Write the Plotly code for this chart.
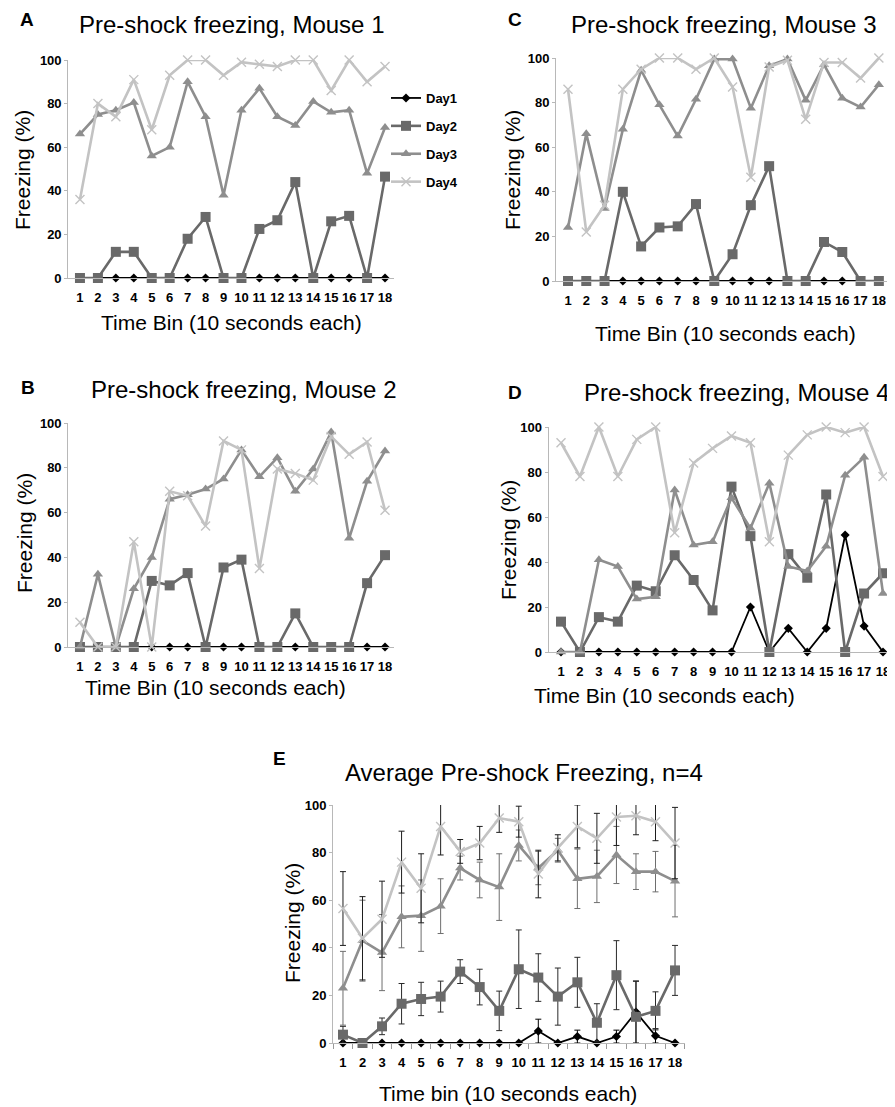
import plotly.graph_objects as go

# ---------------- data ----------------
bins = [1, 2, 3, 4, 5, 6, 7, 8, 9, 10, 11, 12, 13, 14, 15, 16, 17, 18]
tick_labels = ["1", "2", "3", "4", "5", "6", "7", "8", "9", "10", "11", "12", "13", "14", "15", "16", "17", "18"]
day_names = ["Day1", "Day2", "Day3", "Day4"]

# Mouse 1 (panel A)
m1_day1 = [0, 0, 0, 0, 0, 0, 0, 0, 0, 0, 0, 0, 0, 0, 0, 0, 0, 0]
m1_day2 = [0, 0, 12, 12, 0, 0, 18, 28, 0, 0, 22.5, 26.5, 44, 0, 26, 28.5, 0, 46.5]
m1_day3 = [66, 75, 77, 80.5, 56, 60, 90, 74, 38, 77, 87, 74, 70, 81, 76, 77, 48, 69]
m1_day4 = [36, 80, 74, 91, 68, 93, 100, 100, 93, 99, 98, 97, 100, 100, 86, 100, 90, 97]

# Mouse 2 (panel B)
m2_day1 = [0, 0, 0, 0, 0, 0, 0, 0, 0, 0, 0, 0, 0, 0, 0, 0, 0, 0]
m2_day2 = [0, 0, 0, 0, 29.5, 27.5, 33, 0, 35.5, 39, 0, 0, 15, 0, 0, 0, 28.5, 41]
m2_day3 = [0, 32.5, 0, 26, 40, 66, 68, 70.5, 75, 88, 76, 84.5, 69.5, 79.5, 96, 48.5, 74, 87.5]
m2_day4 = [11, 0, 0, 47, 0, 69.5, 67.5, 54, 92, 88, 35, 79.5, 77.5, 74.5, 94, 86, 91.5, 61]

# Mouse 3 (panel C)
m3_day1 = [0, 0, 0, 0, 0, 0, 0, 0, 0, 0, 0, 0, 0, 0, 0, 0, 0, 0]
m3_day2 = [0, 0, 0, 40, 15.5, 24, 24.5, 34.5, 0, 12, 34, 51.5, 0, 0, 17.5, 13, 0, 0]
m3_day3 = [24, 66, 32.5, 68, 94.5, 79, 65, 81.5, 99.5, 99.5, 77.5, 96.5, 99.5, 81, 97, 82, 78, 88]
m3_day4 = [86, 22, 34, 86, 95, 100, 100, 95, 100, 87, 46.5, 96, 99, 72.5, 98, 98, 91, 100]

# Mouse 4 (panel D)
m4_day1 = [0, 0, 0, 0, 0, 0, 0, 0, 0, 0, 20, 0, 10.5, 0, 10.5, 52, 11.5, 0]
m4_day2 = [13.5, 0, 15.5, 13.5, 29.5, 27, 43, 32, 18.5, 73.5, 51.5, 0, 43.5, 33, 70, 0, 26, 35]
m4_day3 = [0, 0, 41, 38, 23.5, 24.5, 72, 47.5, 49, 68.5, 55, 75, 38, 36, 47, 78.5, 86.5, 26]
m4_day4 = [93, 78, 100, 78, 94.5, 100, 53, 84, 90.5, 96, 93, 49, 87.5, 96.5, 100, 97.5, 100, 78]

# Average, n=4 (panel E) with error bars
avg_day1 = [0, 0, 0, 0, 0, 0, 0, 0, 0, 0, 5, 0, 2.7, 0, 2.7, 13, 3, 0]
avg_day2 = [3.5, 0, 7, 16.5, 18.5, 19.5, 30, 23.5, 13.5, 31, 27.5, 19.5, 25.5, 8.5, 28.5, 11, 13.5, 30.5]
avg_day3 = [23, 43, 38, 53, 53.5, 57.5, 73.5, 68.5, 65.5, 83, 73.5, 81, 69, 70, 79, 72, 72, 68]
avg_day4 = [56.5, 44, 52, 76, 65, 91, 80.5, 84, 94.5, 93, 71, 82, 91, 86, 95, 95.5, 93, 84]
err_day1 = [0, 0, 0, 0, 0, 0, 0, 0, 0, 0, 5, 0, 2.7, 0, 2.7, 13, 3, 0]
err_day2 = [3.5, 0, 3.5, 8.5, 7, 6.5, 5, 7.5, 8.3, 16.5, 10, 12, 10.5, 8, 14.5, 15, 8, 10.5]
err_day3 = [15.5, 17, 16, 13, 15, 11.5, 5, 7.5, 14, 6.5, 7, 5, 12.5, 11, 12, 7.5, 8.5, 15]
err_day4 = [15.5, 17.5, 16, 13, 14.5, 12, 5, 7, 6, 6.5, 10, 5.5, 9, 10.5, 12, 8, 8, 15]

# ---------------- styles ----------------
# the page body has an 8px margin, so the figure is placed 8px in and sized to reach the window edge
OFF = 8
W, H = 895 - OFF, 1107 - OFF
colors = ["#000000", "#696969", "#8e8e8e", "#c3c3c3"]
err_colors = ["#000000", "#2a2a2a", "#6e6e6e", "#1e1e1e"]
symbols = ["diamond", "square", "triangle-up", "x-thin"]
msizes = [7, 10, 9, 9]
lwidths = [1.8, 2.6, 2.6, 2.6]
FONT = "Liberation Sans, Arial, sans-serif"
TICKFONT = dict(family="Liberation Sans Narrow, Arial Narrow, Liberation Sans, Arial", size=13,
                color="#000000", weight="bold")


def px_x(x):
    return (x - OFF) / W


def px_y(y):
    return 1 - (y - OFF) / H


def xdom(left, right):
    return [px_x(left), px_x(right)]


def ydom(top, bottom):
    return [px_y(bottom), px_y(top)]


panels = [
    # key, series, errors, x-domain px, y-domain px, x-range
    ("A", [m1_day1, m1_day2, m1_day3, m1_day4], None, (68.3, 394), (60, 278), [0.35, 18.5]),
    ("B", [m2_day1, m2_day2, m2_day3, m2_day4], None, (68.3, 394), (423, 647), [0.35, 18.5]),
    ("C", [m3_day1, m3_day2, m3_day3, m3_day4], None, (556.1, 888), (58, 281), [0.35, 18.5]),
    ("D", [m4_day1, m4_day2, m4_day3, m4_day4], None, (548.7, 892.5), (427, 652), [0.35, 18.5]),
    ("E", [avg_day1, avg_day2, avg_day3, avg_day4], [err_day1, err_day2, err_day3, err_day4],
     (333.2, 684.8), (805, 1043), [0.5, 18.5]),
]

fig = go.Figure()
layout_axes = {}

for i, (key, series, errs, xpx, ypx, xr) in enumerate(panels):
    n = "" if i == 0 else str(i + 1)
    xa, ya = "x" + n, "y" + n
    for d in range(4):
        tr = dict(
            x=bins, y=series[d], mode="lines+markers", name=day_names[d],
            xaxis=xa, yaxis=ya, cliponaxis=False,
            line=dict(color=colors[d], width=lwidths[d]),
            marker=dict(symbol=symbols[d], size=msizes[d], color=colors[d],
                        line=dict(color=colors[d], width=1.4 if d == 3 else 0)),
            legendgroup=day_names[d], showlegend=(i == 0),
        )
        if errs is not None:
            tr["error_y"] = dict(type="data", array=errs[d], visible=True,
                                 color=err_colors[d], thickness=1, width=3)
        fig.add_trace(go.Scatter(**tr))

    xaxis = dict(
        domain=xdom(*xpx), range=xr, anchor=ya, tickmode="array", tickvals=bins,
        ticktext=tick_labels, showgrid=False, zeroline=False, showline=True,
        linecolor="#b8b8b8", linewidth=1.2, ticks="", tickfont=TICKFONT,
        ticklabelstandoff=7, fixedrange=True, automargin=False,
    )
    if key == "E":
        xaxis["minor"] = dict(ticks="outside", tickmode="array",
                              tickvals=[b - 0.5 for b in bins] + [18.5],
                              ticklen=5, tickcolor="#9a9a9a", tickwidth=1)
    yaxis = dict(
        domain=ydom(*ypx), range=[0, 100], anchor=xa, tickvals=[0, 20, 40, 60, 80, 100],
        showgrid=False, zeroline=False, showline=True, linecolor="#b8b8b8", linewidth=1.2,
        ticks="outside", ticklen=3, tickcolor="#b8b8b8", tickfont=TICKFONT, fixedrange=True,
        automargin=False,
    )
    layout_axes["xaxis" + n] = xaxis
    layout_axes["yaxis" + n] = yaxis

fig.update_layout(**layout_axes)

# ---------------- text ----------------
def ann(text, x, y, size, angle=0, bold=False):
    return dict(text=("<b>%s</b>" % text) if bold else text, x=px_x(x), y=px_y(y),
                xref="paper", yref="paper", showarrow=False, xanchor="center",
                yanchor="middle", textangle=angle,
                font=dict(family=FONT, size=size, color="#000000"))

annotations = [
    ann("A", 27, 20, 19, bold=True),
    ann("Pre-shock freezing, Mouse 1", 231, 25, 24),
    ann("Freezing (%)", 22, 170, 21, angle=-90),
    ann("Time Bin (10 seconds each)", 231, 322, 21),

    ann("C", 515, 20, 19, bold=True),
    ann("Pre-shock freezing, Mouse 3", 723, 24, 24),
    ann("Freezing (%)", 512, 170, 21, angle=-90),
    ann("Time Bin (10 seconds each)", 725, 333, 21),

    ann("B", 28, 387, 19, bold=True),
    ann("Pre-shock freezing, Mouse 2", 243, 390, 24),
    ann("Freezing (%)", 24, 533, 21, angle=-90),
    ann("Time Bin (10 seconds each)", 215, 687, 21),

    ann("D", 515, 393, 19, bold=True),
    ann("Pre-shock freezing, Mouse 4", 736, 392, 24),
    ann("Freezing (%)", 508, 540, 21, angle=-90),
    ann("Time Bin (10 seconds each)", 664, 695, 21),

    ann("E", 279, 758, 19, bold=True),
    ann("Average Pre-shock Freezing, n=4", 524, 772, 24),
    ann("Freezing (%)", 292, 923, 21, angle=-90),
    ann("Time bin (10 seconds each)", 508, 1093, 21),
]

fig.update_layout(
    width=W, height=H, autosize=False,
    margin=dict(l=0, r=0, t=0, b=0, autoexpand=False),
    paper_bgcolor="#ffffff", plot_bgcolor="#ffffff",
    font=dict(family=FONT, color="#000000"),
    annotations=annotations,
    showlegend=True,
    legend=dict(x=px_x(386), y=px_y(83), xanchor="left", yanchor="top",
                bgcolor="rgba(0,0,0,0)", tracegroupgap=8, itemwidth=30,
                font=dict(family=FONT, size=13, color="#000000", weight="bold")),
)

fig.write_html("out.html")
